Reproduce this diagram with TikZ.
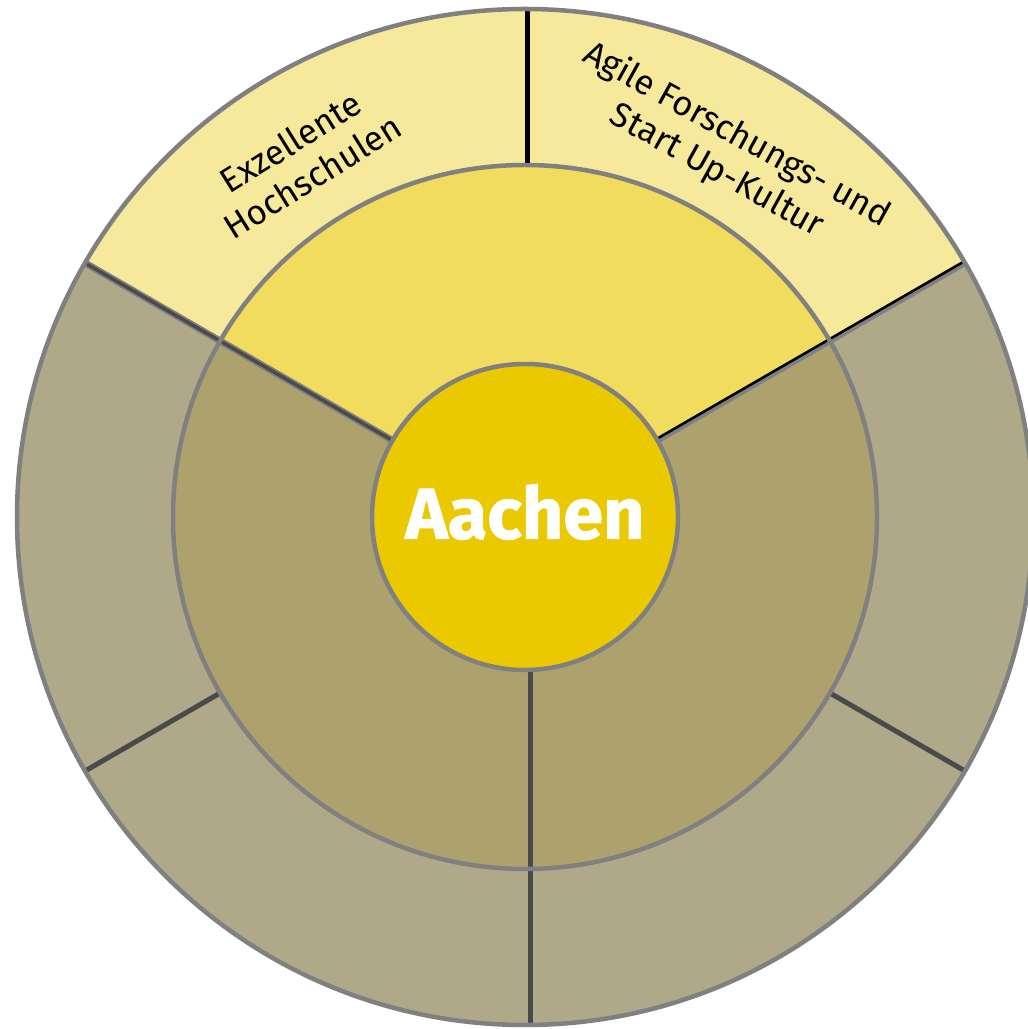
\documentclass[tikz,border=0pt]{standalone}
\usepackage{fontspec}
\newfontfamily\labelfont{Fira Sans}
\newfontfamily\corefont[BoldFeatures={FakeBold=1.2}]{Fira Sans}
\usetikzlibrary{calc}
\definecolor{outerYellow}{HTML}{F7E99C}
\definecolor{midYellow}{HTML}{F1DC5E}
\definecolor{coreYellow}{HTML}{EBC900}
\definecolor{midOlive}{HTML}{ADA26E}
\definecolor{outerOlive}{HTML}{AFA98A}
\definecolor{ringGray}{HTML}{808080}
\definecolor{darkLine}{HTML}{4A4A4A}
\tikzset{
  ringborder/.style={draw=ringGray, line width=4.5pt},
  divider/.style={draw=darkLine, line width=5pt},
  seglabel/.style={font=\labelfont\fontsize{34.5}{41}\selectfont, align=center, text=black, inner sep=0pt},
  corelabel/.style={font=\corefont\bfseries\fontsize{72}{76}\selectfont, text=white, inner sep=0pt}
}
\begin{document}
\begin{tikzpicture}[x=1pt,y=1pt]
\useasboundingbox (0,0) rectangle (1028,1029);
\begin{scope}
\clip (0,0) rectangle (1028,1029);
\coordinate (c) at (525,512);
% outer ring
\fill[outerOlive] (c) circle[radius=508];
\fill[outerYellow] (c) -- ($(c)+(30:508)$) arc[start angle=30, end angle=150, radius=508] -- cycle;
% middle ring
\fill[midOlive] (c) circle[radius=352];
\fill[midYellow] (c) -- ($(c)+(30:352)$) arc[start angle=30, end angle=150, radius=352] -- cycle;
% dividers
\coordinate (d30a) at ($(c)+(30:153)$);
\coordinate (d30b) at ($(c)+(30:508)$);
\coordinate (d150a) at ($(c)+(150:153)$);
\coordinate (d150b) at ($(c)+(150:508)$);
\coordinate (d210a) at ($(c)+(210:352)$);
\coordinate (d210b) at ($(c)+(210:508)$);
\coordinate (d330a) at ($(c)+(330:352)$);
\coordinate (d330b) at ($(c)+(330:508)$);
\coordinate (d270a) at (530,512-153);
\coordinate (d270b) at (530,512-508);
\coordinate (d90a) at (527,512+352);
\coordinate (d90b) at (527,512+508);
\draw[draw=ringGray, line width=6pt] (d30a) -- (d30b);
\draw[draw=black, line width=2.5pt] ($(d30a)+(-0.9,1.5)$) -- ($(d30b)+(-0.9,1.5)$);
\draw[draw=ringGray, line width=7pt] (d150a) -- (d150b);
\draw[draw=darkLine, line width=3.5pt] (d150a) -- (d150b);
\draw[divider] (d210a) -- (d210b);
\draw[divider] (d330a) -- (d330b);
\draw[divider] (d270a) -- (d270b);
\draw[draw=black, line width=5pt] (d90a) -- (d90b);
% ring borders
\draw[ringborder] (c) circle[radius=508];
\draw[ringborder] (c) circle[radius=352];
% core
\node[circle, minimum size=306pt, fill=coreYellow, draw=ringGray, line width=4.5pt, inner sep=0pt] (core) at (c) {};
\node[corelabel] (aachen) at ($(c)+(0,5)$) {Aachen};
% segment labels
\node[seglabel, rotate=32] (exz) at ($(c)+(122:422)$) {Exzellente\\Hochschulen};
\node[seglabel, rotate=-29] (agile) at ($(c)+(61:416)$) {Agile Forschungs- und\\Start Up-Kultur};
\end{scope}
\end{tikzpicture}
\end{document}
